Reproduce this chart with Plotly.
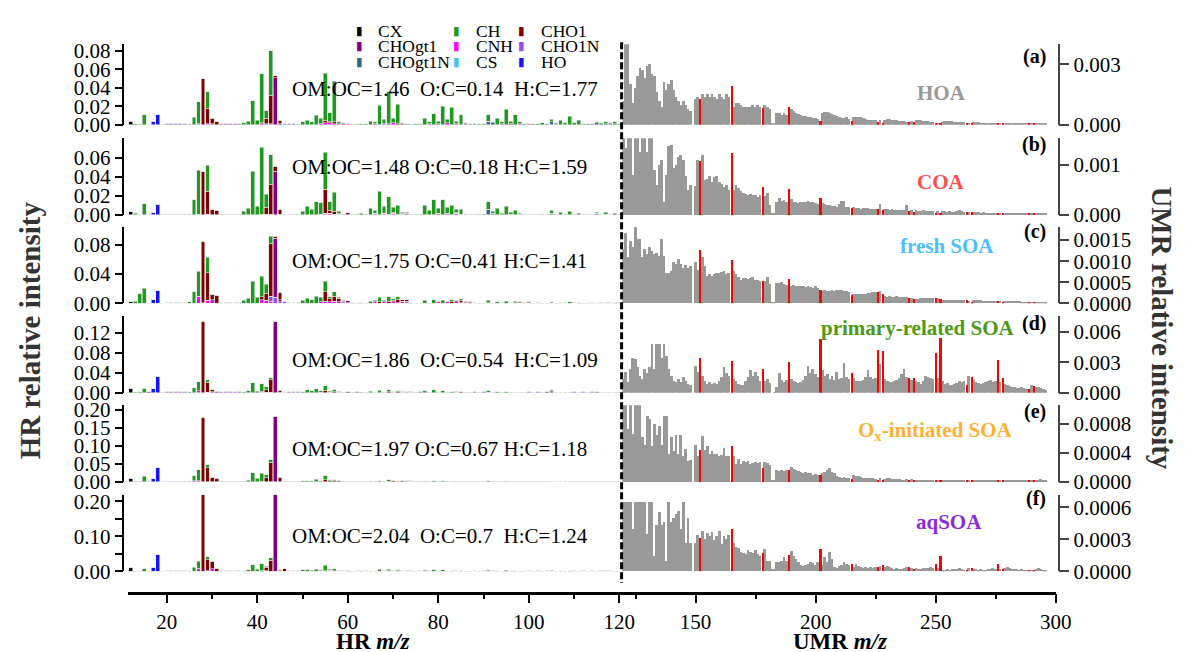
import plotly.graph_objects as go

W, H = 1186, 652
def fx(p): return p / W
def fy(p): return 1 - p / H

# ---------------- data ----------------
HR_MZ = list(range(12, 121))
UMR_MZ = list(range(120, 297))
RED_MZ = [152, 165, 178, 189, 202, 215, 226, 228, 239, 241, 250, 252, 263, 265, 276, 278, 289, 291]

FAMILIES = ["CX", "CH", "CHO1", "CHOgt1", "CNH", "CHO1N", "CHOgt1N", "CS", "HO"]
STACK_ORDER = ["CNH", "CHO1N", "CHOgt1N", "CS", "HO", "CX", "CHOgt1", "CHO1", "CH"]
COLORS = {"CX": "#000000", "CH": "#1e9a1e", "CHO1": "#800000", "CHOgt1": "#800080",
          "CNH": "#ff00ff", "CHO1N": "#9b4dea", "CHOgt1N": "#2a6a8c", "CS": "#45c2f5", "HO": "#1414ff"}

FACTORS = ["HOA", "COA", "fresh SOA", "primary-related SOA", "O<sub>x</sub>-initiated SOA", "aqSOA"]
FACTOR_COLORS = ["#999999", "#ff4d4d", "#4dbfff", "#4a9a14", "#ffb030", "#8a2be2"]
PANEL_TAGS = ["(a)", "(b)", "(c)", "(d)", "(e)", "(f)"]
ELEMENTAL = ["OM:OC=1.46\u00a0\u00a0O:C=0.14\u00a0\u00a0H:C=1.77",
             "OM:OC=1.48 O:C=0.18 H:C=1.59",
             "OM:OC=1.75 O:C=0.41 H:C=1.41",
             "OM:OC=1.86\u00a0\u00a0O:C=0.54\u00a0\u00a0H:C=1.09",
             "OM:OC=1.97 O:C=0.67 H:C=1.18",
             "OM:OC=2.04\u00a0\u00a0O:C=0.7\u00a0\u00a0H:C=1.24"]

# HR family spectra (m/z : relative intensity)
HR_HOA = {
    "CX": {12: 0.003},
    "CH": {13: 0.001, 14: 0.0005, 15: 0.011, 25: 0.0005, 26: 0.008, 27: 0.024, 29: 0.018, 37: 0.002, 38: 0.004,
           39: 0.026, 40: 0.005, 41: 0.053, 42: 0.008, 43: 0.048, 49: 0.0005, 50: 0.003, 51: 0.005, 52: 0.003,
           53: 0.010, 54: 0.006, 55: 0.051, 56: 0.010, 57: 0.044, 58: 0.002, 59: 0.001, 62: 0.0005, 63: 0.001,
           64: 0.001, 65: 0.004, 66: 0.002, 67: 0.021, 68: 0.005, 69: 0.035, 70: 0.005, 71: 0.021, 72: 0.001,
           73: 0.001, 74: 0.0005, 75: 0.001, 76: 0.001, 77: 0.007, 78: 0.002, 79: 0.012, 80: 0.003, 81: 0.020,
           82: 0.004, 83: 0.019, 84: 0.003, 85: 0.011, 86: 0.001, 87: 0.001, 89: 0.001, 90: 0.001, 91: 0.007,
           92: 0.001, 93: 0.007, 94: 0.002, 95: 0.017, 96: 0.003, 97: 0.011, 98: 0.002, 99: 0.001, 101: 0.001,
           102: 0.001, 103: 0.002, 104: 0.001, 105: 0.003, 106: 0.001, 107: 0.005, 108: 0.002, 109: 0.009,
           110: 0.002, 111: 0.005, 112: 0.001, 113: 0.001, 115: 0.001, 116: 0.001, 117: 0.002, 118: 0.001,
           119: 0.002, 120: 0.001},
    "CHO1": {28: 0.050, 29: 0.017, 30: 0.006, 31: 0.004, 41: 0.001, 42: 0.006, 43: 0.031, 44: 0.002, 45: 0.004,
             55: 0.003, 56: 0.001, 57: 0.002, 69: 0.001, 71: 0.001},
    "CHOgt1": {44: 0.051, 45: 0.001, 60: 0.0005},
    "CNH": {27: 0.001, 29: 0.001, 30: 0.001, 41: 0.001, 42: 0.001, 43: 0.001, 54: 0.001, 55: 0.002, 56: 0.002,
            57: 0.001, 58: 0.001, 59: 0.001, 60: 0.001, 66: 0.001, 68: 0.001, 70: 0.002, 72: 0.001, 78: 0.001,
            80: 0.001, 82: 0.002, 84: 0.001, 86: 0.001, 94: 0.001, 96: 0.001, 98: 0.001, 100: 0.001},
    "CHO1N": {20: 0.0008, 21: 0.0008, 22: 0.0008, 23: 0.0008, 24: 0.0008, 32: 0.0008, 33: 0.0008, 34: 0.0008,
              35: 0.0008, 36: 0.0008, 46: 0.0008, 47: 0.0008, 48: 0.0008, 61: 0.0005, 74: 0.0005, 88: 0.0008,
              100: 0.0005, 114: 0.0008},
    "CHOgt1N": {91: 0.004, 92: 0.002, 105: 0.003, 106: 0.001, 115: 0.002, 116: 0.001, 117: 0.001, 118: 0.001,
                119: 0.001},
    "CS": {},
    "HO": {16: 0.0005, 17: 0.003, 18: 0.011},
}
HR_COA = {
    "CX": {12: 0.004},
    "CH": {13: 0.002, 15: 0.012, 25: 0.001, 26: 0.016, 27: 0.046, 29: 0.027, 37: 0.004, 38: 0.007, 39: 0.046,
           40: 0.009, 41: 0.070, 42: 0.014, 43: 0.031, 50: 0.004, 51: 0.009, 52: 0.006, 53: 0.014, 54: 0.012,
           55: 0.039, 56: 0.009, 57: 0.020, 58: 0.002, 59: 0.001, 62: 0.001, 63: 0.002, 64: 0.001, 65: 0.007,
           66: 0.003, 67: 0.025, 68: 0.007, 69: 0.018, 70: 0.005, 71: 0.009, 72: 0.001, 73: 0.001, 75: 0.001,
           76: 0.001, 77: 0.010, 78: 0.005, 79: 0.016, 80: 0.005, 81: 0.016, 82: 0.006, 83: 0.010, 84: 0.003,
           85: 0.005, 86: 0.001, 89: 0.001, 90: 0.001, 91: 0.008, 92: 0.002, 93: 0.007, 94: 0.002, 95: 0.009,
           96: 0.002, 97: 0.005, 98: 0.001, 103: 0.001, 105: 0.003, 106: 0.001, 107: 0.003, 108: 0.001,
           109: 0.004, 110: 0.001, 111: 0.002, 115: 0.001, 117: 0.002, 119: 0.002},
    "CHO1": {28: 0.046, 29: 0.024, 30: 0.006, 31: 0.005, 42: 0.007, 43: 0.031, 44: 0.005, 45: 0.005, 55: 0.025,
             56: 0.003, 57: 0.003, 58: 0.001, 69: 0.001, 70: 0.001, 71: 0.001, 72: 0.001, 84: 0.001, 85: 0.001},
    "CHOgt1": {44: 0.046, 45: 0.001, 60: 0.003, 73: 0.002},
    "CNH": {27: 0.001, 29: 0.001, 41: 0.001, 42: 0.001, 43: 0.001, 54: 0.001, 55: 0.002, 56: 0.002, 57: 0.001,
            58: 0.001, 66: 0.002, 68: 0.002, 70: 0.002, 72: 0.001, 80: 0.002, 82: 0.002, 84: 0.002, 96: 0.001,
            98: 0.001},
    "CHO1N": {20: 0.0008, 21: 0.0008, 22: 0.0008, 23: 0.0008, 24: 0.0008, 32: 0.0008, 33: 0.0008, 34: 0.0008,
              35: 0.0008, 36: 0.0008, 46: 0.0008, 47: 0.0008, 48: 0.0008, 49: 0.0008, 61: 0.0005, 74: 0.0005,
              88: 0.0008, 100: 0.0008, 114: 0.0008},
    "CHOgt1N": {91: 0.006, 92: 0.002, 105: 0.002, 115: 0.002, 116: 0.001, 117: 0.001},
    "CS": {},
    "HO": {17: 0.003, 18: 0.011},
}
HR_FRESH = {
    "CX": {12: 0.003},
    "CH": {13: 0.003, 14: 0.013, 15: 0.021, 25: 0.002, 26: 0.016, 27: 0.034, 29: 0.021, 37: 0.004, 38: 0.007,
           39: 0.030, 40: 0.008, 41: 0.028, 42: 0.012, 43: 0.010, 50: 0.004, 51: 0.007, 52: 0.005, 53: 0.010,
           54: 0.006, 55: 0.014, 56: 0.003, 57: 0.006, 58: 0.001, 59: 0.001, 63: 0.001, 65: 0.003, 66: 0.002,
           67: 0.006, 68: 0.002, 69: 0.006, 70: 0.002, 71: 0.004, 77: 0.004, 79: 0.005, 81: 0.004, 83: 0.003,
           85: 0.002, 91: 0.003, 93: 0.002, 95: 0.003, 97: 0.002, 105: 0.001, 107: 0.001, 109: 0.002, 119: 0.001},
    "CHO1": {28: 0.083, 29: 0.038, 30: 0.007, 31: 0.011, 41: 0.004, 42: 0.010, 43: 0.072, 44: 0.003, 45: 0.010,
             55: 0.013, 56: 0.004, 57: 0.007, 58: 0.005, 59: 0.001, 67: 0.002, 69: 0.003, 70: 0.002, 71: 0.004,
             72: 0.002, 73: 0.002, 83: 0.002, 84: 0.002, 85: 0.003, 86: 0.001, 87: 0.001, 97: 0.001, 98: 0.001,
             99: 0.001, 111: 0.001},
    "CHOgt1": {44: 0.081, 45: 0.003, 46: 0.001, 59: 0.002, 60: 0.003, 61: 0.001, 72: 0.001, 73: 0.002, 74: 0.001,
               86: 0.001, 87: 0.001, 100: 0.001},
    "CNH": {27: 0.010, 28: 0.001, 29: 0.004, 30: 0.005, 41: 0.005, 42: 0.004, 43: 0.003, 54: 0.002, 55: 0.003,
            56: 0.002, 57: 0.002, 58: 0.002, 66: 0.002, 68: 0.002, 70: 0.002, 72: 0.002, 80: 0.002, 82: 0.002,
            84: 0.002, 86: 0.001, 94: 0.001, 96: 0.001, 98: 0.001, 100: 0.001, 108: 0.001, 110: 0.001},
    "CHO1N": {20: 0.001, 21: 0.001, 22: 0.001, 23: 0.001, 24: 0.001, 32: 0.001, 33: 0.001, 34: 0.001, 35: 0.001,
              36: 0.001, 43: 0.007, 44: 0.008, 45: 0.002, 46: 0.002, 47: 0.001, 48: 0.001, 49: 0.001, 57: 0.001,
              59: 0.001, 60: 0.001, 71: 0.001, 73: 0.001, 85: 0.001, 88: 0.001, 102: 0.001, 114: 0.001,
              116: 0.001, 118: 0.001, 120: 0.001},
    "CHOgt1N": {91: 0.001, 105: 0.001, 117: 0.001},
    "CS": {},
    "HO": {17: 0.005, 18: 0.018},
}
HR_PRIM = {
    "CX": {12: 0.008},
    "CH": {13: 0.001, 14: 0.002, 15: 0.008, 25: 0.002, 26: 0.010, 27: 0.018, 29: 0.005, 37: 0.002, 38: 0.004,
           39: 0.020, 40: 0.003, 41: 0.015, 42: 0.006, 43: 0.004, 50: 0.002, 51: 0.006, 52: 0.004, 53: 0.008,
           54: 0.003, 55: 0.010, 56: 0.002, 57: 0.004, 63: 0.001, 65: 0.003, 67: 0.005, 69: 0.004, 71: 0.002,
           77: 0.004, 79: 0.006, 81: 0.004, 83: 0.002, 91: 0.003, 93: 0.002, 95: 0.002, 105: 0.002, 115: 0.002},
    "CHO1": {16: 0.002, 28: 0.142, 29: 0.020, 30: 0.004, 31: 0.003, 41: 0.002, 42: 0.005, 43: 0.025, 45: 0.004,
             55: 0.004, 56: 0.001, 57: 0.002, 58: 0.002, 69: 0.002, 70: 0.001, 71: 0.002, 72: 0.002, 73: 0.001,
             84: 0.002, 85: 0.002, 104: 0.002, 105: 0.002},
    "CHOgt1": {44: 0.142, 45: 0.001, 46: 0.001, 60: 0.002, 61: 0.001, 73: 0.001, 74: 0.001, 87: 0.001},
    "CNH": {27: 0.004, 29: 0.001, 30: 0.002, 41: 0.001, 42: 0.001, 43: 0.001, 54: 0.001, 56: 0.001, 58: 0.001,
            68: 0.001, 70: 0.001, 72: 0.001, 82: 0.001, 84: 0.001, 86: 0.001, 96: 0.001, 98: 0.001},
    "CHO1N": {20: 0.0015, 21: 0.0015, 22: 0.0015, 23: 0.0015, 24: 0.0015, 32: 0.0015, 33: 0.0015, 34: 0.0015,
              35: 0.0015, 36: 0.0015, 46: 0.001, 47: 0.0015, 48: 0.0015, 49: 0.0015, 59: 0.001, 62: 0.0015,
              74: 0.001, 76: 0.0015, 88: 0.0015, 90: 0.0015, 100: 0.0015, 102: 0.0015, 110: 0.0015,
              112: 0.0015, 114: 0.0015},
    "CHOgt1N": {91: 0.001, 105: 0.002, 106: 0.001, 117: 0.001},
    "CS": {},
    "HO": {17: 0.008, 18: 0.032},
}
HR_OX = {
    "CX": {12: 0.010},
    "CH": {13: 0.002, 15: 0.016, 25: 0.002, 26: 0.014, 27: 0.031, 29: 0.009, 37: 0.002, 38: 0.005, 39: 0.026,
           40: 0.010, 41: 0.022, 42: 0.007, 43: 0.007, 50: 0.003, 51: 0.004, 52: 0.003, 53: 0.007, 54: 0.003,
           55: 0.011, 56: 0.003, 57: 0.003, 65: 0.002, 67: 0.003, 69: 0.004, 71: 0.002, 77: 0.002, 79: 0.003,
           81: 0.003, 91: 0.002, 93: 0.001, 95: 0.002},
    "CHO1": {28: 0.180, 29: 0.038, 30: 0.012, 31: 0.010, 41: 0.002, 42: 0.012, 43: 0.055, 45: 0.012, 55: 0.006,
             56: 0.002, 57: 0.003, 58: 0.003, 69: 0.002, 70: 0.002, 71: 0.002, 72: 0.002, 73: 0.002, 84: 0.001,
             85: 0.002, 86: 0.001, 99: 0.001},
    "CHOgt1": {44: 0.182, 45: 0.001, 60: 0.002, 61: 0.001, 73: 0.002, 74: 0.001, 87: 0.001},
    "CNH": {26: 0.004, 27: 0.003, 29: 0.001, 30: 0.001, 42: 0.001, 54: 0.001, 56: 0.001, 58: 0.001, 68: 0.001,
            70: 0.001, 72: 0.001, 84: 0.001, 86: 0.001},
    "CHO1N": {20: 0.002, 21: 0.002, 22: 0.002, 23: 0.002, 24: 0.002, 32: 0.002, 33: 0.002, 34: 0.002, 35: 0.002,
              36: 0.002, 46: 0.002, 47: 0.002, 48: 0.002, 49: 0.002, 59: 0.002, 62: 0.002, 64: 0.002, 74: 0.002,
              76: 0.002, 78: 0.002, 88: 0.002, 90: 0.002, 92: 0.002, 100: 0.002, 102: 0.002, 104: 0.002,
              110: 0.002, 112: 0.002, 114: 0.002, 116: 0.002, 118: 0.002},
    "CHOgt1N": {91: 0.001, 105: 0.001},
    "CS": {},
    "HO": {17: 0.010, 18: 0.040},
}
HR_AQ = {
    "CX": {12: 0.010},
    "CH": {13: 0.002, 15: 0.008, 25: 0.002, 26: 0.012, 27: 0.020, 29: 0.009, 37: 0.002, 38: 0.004, 39: 0.018,
           40: 0.006, 41: 0.019, 42: 0.004, 43: 0.006, 50: 0.004, 51: 0.004, 52: 0.003, 53: 0.006, 54: 0.004,
           55: 0.015, 56: 0.003, 57: 0.006, 63: 0.001, 65: 0.002, 67: 0.006, 69: 0.005, 71: 0.002, 77: 0.003,
           79: 0.005, 81: 0.004, 83: 0.002, 91: 0.003, 93: 0.002, 95: 0.003, 97: 0.001, 105: 0.002, 107: 0.001,
           109: 0.002},
    "CHO1": {16: 0.0005, 28: 0.218, 29: 0.032, 30: 0.021, 31: 0.009, 41: 0.002, 42: 0.010, 43: 0.032, 45: 0.004,
             46: 0.008, 55: 0.002, 56: 0.002, 57: 0.002, 58: 0.001, 69: 0.001, 70: 0.001, 71: 0.002, 72: 0.001,
             73: 0.001, 84: 0.001, 85: 0.001},
    "CHOgt1": {44: 0.218, 45: 0.001, 60: 0.001, 73: 0.001, 74: 0.001},
    "CNH": {27: 0.009, 29: 0.001, 30: 0.008, 42: 0.001, 54: 0.001, 56: 0.001, 58: 0.001, 68: 0.001, 70: 0.001,
            72: 0.001, 84: 0.001},
    "CHO1N": {20: 0.002, 21: 0.002, 22: 0.002, 23: 0.002, 24: 0.002, 32: 0.002, 33: 0.002, 34: 0.002, 35: 0.002,
              36: 0.002, 47: 0.002, 48: 0.002, 49: 0.002, 59: 0.002, 62: 0.002, 64: 0.002, 74: 0.002,
              76: 0.002, 78: 0.002, 88: 0.002, 90: 0.002, 92: 0.002, 100: 0.002, 102: 0.002, 104: 0.002,
              110: 0.002, 112: 0.002, 114: 0.002, 116: 0.002, 118: 0.002},
    "CHOgt1N": {91: 0.001, 105: 0.001, 117: 0.001},
    "CS": {},
    "HO": {17: 0.012, 18: 0.048},
}
HR_ROWS = [HR_HOA, HR_COA, HR_FRESH, HR_PRIM, HR_OX, HR_AQ]

# UMR spectra m/z 120..296, in units of 1e-4
UMR_HOA = [12, 40, 40, 20, 11, 18, 24, 28, 27, 23,
           29, 30, 25, 24, 16, 12, 9, 21, 17, 20,
           22, 17, 14, 12, 10, 12, 10, 8, 7, 0,
           13, 14, 13, 15, 14, 15, 14, 15, 14, 13,
           15, 14, 13, 15, 14, 19, 9, 11, 11, 10,
           9, 9, 9, 9, 10, 9, 10, 9, 8.5, 10,
           9, 8, 0.5, 0.5, 6, 6, 5, 6, 5, 9,
           8, 7, 6, 5.5, 5, 4.5, 4.5, 4, 4, 3.5,
           3.5, 3, 2, 6, 6.5, 6.5, 6, 5.5, 5, 4.5,
           4, 3.5, 3.5, 4, 3, 1.7, 4, 4, 4, 4,
           3.5, 3, 2.5, 2.5, 2.5, 2.5, 1.2, 2.5, 0.5, 2.5,
           3, 3, 2.5, 2.5, 2.5, 2, 2, 2, 1.5, 1.2,
           2, 1.2, 2.5, 2.5, 2.5, 2, 2, 2, 1.5, 1.5,
           0.3, 0.5, 0.3, 1.5, 2, 2, 2, 2, 1.5, 1.5,
           1.2, 1.5, 1.2, 0.5, 1, 0.5, 1.2, 1.2, 1.2, 1,
           1, 1, 0.8, 0.7, 0.8, 0.8, 0.3, 0.5, 0.3, 0.8,
           0.8, 1, 1, 1, 0.8, 0.8, 0.8, 0.7, 0.6, 0.4,
           0.5, 0.4, 0.8, 0.8, 0.7, 0.8, 0.8]
UMR_COA = [15.5, 13.4, 15.5, 15.5, 8, 15.5, 15.5, 12.5, 15.5, 15.5,
           12.5, 15.5, 15.5, 9, 6, 10, 11, 2.5, 8, 13.7,
           14, 9.4, 10, 11.6, 12, 11, 7.8, 5, 6, 0,
           5.7, 11, 10.7, 12, 7, 7.2, 7.8, 6.5, 7.5, 7.8,
           6.5, 6.2, 5.5, 6, 5, 12.3, 5, 6, 5.3, 4.7,
           4.4, 4.2, 4, 4.2, 3.9, 4, 3.6, 4, 5.6, 3.75,
           4.4, 1.9, 0.3, 0.3, 2.5, 3.4, 2.8, 3, 2.5, 5.1,
           3.1, 2.5, 2.6, 2.4, 2.5, 2.6, 2.6, 2.8, 2.5, 2.5,
           2.3, 2.2, 3.4, 2.3, 2.2, 2, 1.9, 1.8, 1.7, 1.6,
           2.2, 2.8, 2.8, 1.6, 1.5, 1.4, 1.6, 1.4, 1.3, 1.2,
           1.3, 1.4, 1.3, 1.2, 1.1, 1.2, 1.1, 2.2, 0.9, 1.2,
           1.1, 1, 1.1, 1, 1, 0.9, 1, 1, 2, 0.7,
           1, 0.6, 0.9, 0.8, 0.8, 0.9, 0.8, 0.7, 0.8, 0.7,
           0.3, 0.7, 0.3, 0.8, 0.7, 0.6, 0.7, 0.6, 0.6, 0.8,
           0.9, 0.7, 0.6, 0.5, 0.6, 0.5, 0.5, 0.5, 0.5, 0.4,
           0.5, 0.4, 0.4, 0.4, 0.4, 0.4, 0.2, 0.4, 0.2, 0.4,
           0.3, 0.4, 0.3, 0.3, 0.3, 0.4, 0.3, 0.3, 0.3, 0.2,
           0.3, 0.2, 0.3, 0.3, 0.4, 0.3, 0.3]
UMR_FRESH = [13, 16.8, 10.9, 14.8, 13.3, 18, 15.2, 15.2, 10.9, 12.9,
             11.7, 13.3, 12.5, 11.7, 12, 11.3, 15.2, 11.3, 7.3, 7.3,
             7.6, 9.7, 9.3, 10.5, 9.3, 8.5, 9, 8.5, 8.8, 0,
             9.7, 8, 12.7, 10.9, 8.9, 6.5, 6.9, 6.5, 6.9, 7.1,
             7.3, 7.5, 7.7, 6.9, 7.2, 10.3, 7.7, 6.9, 6.3, 5.6,
             5.9, 6.1, 5.7, 5.9, 6.3, 5.5, 5.6, 5.4, 5.3, 5.3,
             6.3, 4.5, 0.3, 0.3, 4.9, 4.9, 5, 4.6, 4.3, 5.7,
             4.1, 4.3, 4.1, 4.1, 4, 4, 3.9, 4.1, 3.8, 3.7,
             4, 3.7, 3.2, 2.9, 3.2, 2.9, 3, 3.2, 2.9, 3.2,
             3.1, 3.2, 2.9, 3, 2.8, 1.9, 2.1, 2.1, 2.1, 2.2,
             2.3, 2.3, 2.5, 2.4, 2.6, 2.6, 2.7, 2.9, 2.1, 1.7,
             1.6, 1.7, 1.6, 1.6, 1.7, 1.6, 1.6, 1.5, 1.5, 1.2,
             1.3, 1.1, 1.1, 1.1, 1.2, 1.2, 1.3, 1.3, 1.2, 1.3,
             1.35, 1.2, 1, 0.9, 0.9, 0.9, 0.8, 0.8, 0.8, 0.8,
             0.8, 0.8, 0.8, 0.8, 0.6, 0.2, 0.7, 0.7, 0.7, 0.7,
             0.6, 0.6, 0.6, 0.6, 0.6, 0.6, 0.5, 0.5, 0.4, 0.5,
             0.5, 0.6, 0.5, 0.5, 0.5, 0.5, 0.4, 0.4, 0.4, 0.4,
             0.3, 0.2, 0.3, 0.3, 0.3, 0.4, 0.3]
UMR_PRIM = [14, 20, 11, 23, 34, 33, 25, 17, 14, 23,
            19, 25, 48, 23, 48, 48, 34, 48, 36, 23,
            17, 12, 11, 14, 11, 15.5, 12, 9, 8, 0,
            26, 20, 34, 17, 12, 9, 11, 9, 10, 9,
            12, 15.5, 25, 19, 17, 31, 14, 12, 9, 8,
            8, 12, 15.5, 22, 17, 20, 17, 12, 23, 12,
            14, 10, 0, 0.5, 6, 19, 13, 11, 13, 30,
            14, 12, 11, 10, 11, 13, 17, 26, 19, 23,
            18, 16, 53, 22, 17, 18, 14, 17, 13, 20,
            14, 15, 29.5, 16, 14, 19, 15, 12, 12, 12,
            13, 16, 22, 16, 14, 15, 42.5, 28, 41, 14,
            12, 11, 11, 12, 13, 15, 18, 23, 16, 14.6,
            13, 14.6, 12, 11, 9, 12, 17, 16, 15, 14,
            39, 15, 54, 12, 9, 10, 8, 8, 9, 10,
            12, 11, 12, 7.8, 17, 15.5, 13, 11, 10, 9,
            10, 11, 12, 13, 11, 12, 32.6, 11, 14.6, 9,
            8, 7, 6, 6, 5, 5, 6, 5, 4, 4,
            8, 7, 6, 6, 5, 4, 3]
UMR_OX = [10.5, 10.5, 7.3, 10.5, 6.6, 10.5, 10.5, 10.5, 6.2, 5.1,
          9, 8.6, 4.9, 7.9, 6.4, 7.7, 5.1, 9.1, 9.1, 3.8,
          6.2, 4.2, 6.4, 3.8, 6.4, 3.6, 4.5, 2.9, 3, 0,
          5.1, 3.5, 4.4, 6.3, 4.4, 4.9, 3.8, 4.2, 3.8, 3.8,
          3.6, 3.7, 4.7, 3.6, 3.5, 4.9, 3.6, 2.5, 3.1, 2.5,
          2.9, 2.7, 2.9, 2.4, 2.6, 2.7, 2.6, 2.7, 1.9, 2.7,
          2.6, 2.3, 0.2, 0.2, 1.6, 1.5, 1.6, 1.5, 1.6, 1.6,
          2, 1.8, 1.7, 1.5, 1.4, 1.2, 1.3, 1.2, 1.2, 1,
          1.1, 1, 1, 1.2, 1.4, 1.7, 1.9, 1.4, 1.2, 0.8,
          0.7, 0.6, 0.7, 0.6, 0.6, 0.4, 0.9, 0.8, 0.8, 0.7,
          0.6, 0.6, 0.5, 0.5, 0.5, 0.4, 0.2, 0.5, 0.2, 0.4,
          0.5, 0.5, 0.4, 0.4, 0.4, 0.4, 0.3, 0.3, 0.4, 0.2,
          0.4, 0.2, 0.3, 0.3, 0.3, 0.3, 0.3, 0.3, 0.3, 0.3,
          0.1, 0.3, 0.1, 0.3, 0.2, 0.2, 0.3, 0.2, 0.2, 0.2,
          0.2, 0.2, 0.2, 0.1, 0.2, 0.1, 0.2, 0.2, 0.2, 0.2,
          0.2, 0.2, 0.2, 0.2, 0.2, 0.2, 0.1, 0.2, 0.1, 0.2,
          0.2, 0.2, 0.2, 0.2, 0.2, 0.2, 0.2, 0.3, 0.2, 0.1,
          0.2, 0.1, 0.2, 0.2, 0.4, 0.2, 0.2]
UMR_AQ = [6.5, 6.5, 6.5, 6.5, 4, 6.5, 6.5, 6.5, 6.5, 6.5,
          3.5, 6.5, 6.5, 1.4, 4.3, 5.6, 4.3, 4.6, 1, 6.5,
          4.6, 5, 5.4, 5.7, 4, 6.5, 2.7, 5, 2.7, 0,
          2.7, 3.4, 3.1, 3.8, 3, 3.6, 3.3, 3.7, 2.9, 3.3,
          3.8, 2.6, 3.3, 3, 3.4, 4, 2.7, 2.3, 2.2, 1.8,
          1.7, 1.6, 2, 1.8, 1.7, 2, 1.6, 1.4, 1.75, 2.1,
          1, 1, 0.2, 0.2, 0.9, 0.9, 1, 1.3, 1, 1.5,
          1.9, 1.4, 1.2, 0.9, 0.6, 0.5, 0.6, 0.7, 0.9, 0.8,
          0.6, 0.9, 2.1, 0.6, 1.3, 0.9, 1.8, 1.2, 0.4, 0.3,
          0.5, 0.6, 0.9, 0.7, 0.6, 0.65, 0.4, 0.7, 0.5, 0.4,
          0.3, 0.4, 0.3, 0.4, 0.3, 0.4, 0.45, 0.5, 0.6, 0.4,
          0.5, 0.4, 0.3, 0.2, 0.3, 0.2, 0.2, 0.3, 0.45, 0.45,
          0.3, 0.2, 0.3, 0.2, 0.2, 0.3, 0.3, 0.3, 0.4, 0.3,
          0.7, 0.3, 1.4, 0.1, 0.1, 0.2, 0.1, 0.2, 0.2, 0.2,
          0.3, 0.2, 0.1, 0.1, 0.3, 0.35, 0.2, 0.2, 0.1, 0.2,
          0.1, 0.1, 0.2, 0.2, 0.3, 0.2, 0.7, 0.2, 0.2, 0.3,
          0.4, 0.3, 0.2, 0.2, 0.2, 0.1, 0.2, 0.1, 0.1, 0.1,
          0.1, 0.1, 0.2, 0.3, 0.2, 0.1, 0.1]
UMR_ROWS = [UMR_HOA, UMR_COA, UMR_FRESH, UMR_PRIM, UMR_OX, UMR_AQ]

# axis ranges / ticks
HR_YRANGE = [0.0874, 0.0804, 0.105, 0.153, 0.2135, 0.219]
HR_YTICKS = [[0, 0.02, 0.04, 0.06, 0.08], [0, 0.02, 0.04, 0.06], [0, 0.04, 0.08],
             [0, 0.04, 0.08, 0.12], [0, 0.05, 0.10, 0.15, 0.20], [0, 0.10, 0.20]]
HR_YTEXT = [["0.00", "0.02", "0.04", "0.06", "0.08"], ["0.00", "0.02", "0.04", "0.06"], ["0.00", "0.04", "0.08"],
            ["0.00", "0.04", "0.08", "0.12"], ["0.00", "0.05", "0.10", "0.15", "0.20"],
            ["0.00", "0.10", "0.20"]]
HR_YMINOR = [[], [], [], [], [], [0.05, 0.15]]
UMR_YRANGE = [0.0040, 0.00153, 0.00182, 0.0076, 0.00105, 0.00072]
UMR_YTICKS = [[0, 0.003], [0, 0.001], [0, 0.0005, 0.0010, 0.0015], [0, 0.003, 0.006],
              [0, 0.0004, 0.0008], [0, 0.0003, 0.0006]]
UMR_YTEXT = [["0.000", "0.003"], ["0.000", "0.001"], ["0.0000", "0.0005", "0.0010", "0.0015"],
             ["0.000", "0.003", "0.006"], ["0.0000", "0.0004", "0.0008"], ["0.0000", "0.0003", "0.0006"]]

# ---------------- layout geometry (pixels) ----------------
ROW_PX = [(30, 113), (127, 206), (218, 297), (310, 389), (402, 481), (494, 573)]
TEXT_Y = [76, 157, 253, 355, 447, 537]
FACTOR_POS = [(946, 80), (946, 172), (952, 238), (922, 322), (940, 428), (954, 522)]
TAG_Y = [43, 133, 223, 318, 408, 498]
SERIF = "Liberation Serif"

fig = go.Figure()

for r in range(6):
    ya = "y" if r == 0 else f"y{r + 1}"
    for fam in STACK_ORDER:
        d = HR_ROWS[r][fam]
        vals = [d.get(m, 0.0) for m in HR_MZ]
        fig.add_trace(go.Bar(x=HR_MZ, y=vals, xaxis="x", yaxis=ya, marker_color=COLORS[fam], width=0.86,
                             marker_line=dict(color="rgba(225,225,225,1)", width=0.6),
                             showlegend=False, name=fam))
    yr = f"y{r + 7}"
    vals = UMR_ROWS[r]
    gx = [m for m, v in zip(UMR_MZ, vals) if m not in RED_MZ]
    gy = [v * 1e-4 for m, v in zip(UMR_MZ, vals) if m not in RED_MZ]
    rx = [m for m, v in zip(UMR_MZ, vals) if m in RED_MZ]
    ry = [v * 1e-4 for m, v in zip(UMR_MZ, vals) if m in RED_MZ]
    fig.add_trace(go.Bar(x=gx, y=gy, xaxis="x2", yaxis=yr, marker_color="#999999", width=0.8,
                         marker_line=dict(width=0), showlegend=False))
    fig.add_trace(go.Bar(x=rx, y=ry, xaxis="x2", yaxis=yr, marker_color="#ff0000", width=0.9,
                         marker_line=dict(width=0), showlegend=False))

ytickfont = dict(family=SERIF, size=21, color="black")
xtickfont = dict(family=SERIF, size=21, color="black")
layout = dict(
    width=W, height=H, autosize=False, margin=dict(l=0, r=0, t=0, b=0),
    paper_bgcolor="white", plot_bgcolor="rgba(0,0,0,0)", barmode="stack",
    font=dict(family=SERIF, color="black"), showlegend=False,
    xaxis=dict(domain=[fx(122), fx(622)], range=[11.5, 120.5], anchor="free", position=fy(595),
               tickvals=[20, 40, 60, 80, 100, 120], ticks="outside", ticklen=9, tickwidth=2,
               tickcolor="black", showline=True, linewidth=2.5, linecolor="black",
               minor=dict(tickvals=[30, 50, 70, 90, 110], ticks="outside", ticklen=5, tickwidth=2,
                          tickcolor="black"),
               showgrid=False, zeroline=False, tickfont=xtickfont),
    xaxis2=dict(domain=[fx(622.8), fx(1062)], range=[119.5, 300], anchor="free", position=fy(595),
                tickvals=[150, 200, 250, 300], ticks="outside", ticklen=9, tickwidth=2,
                tickcolor="black", showline=True, linewidth=2.5, linecolor="black",
                minor=dict(tickvals=[125, 175, 225, 275], ticks="outside", ticklen=5, tickwidth=2,
                           tickcolor="black"),
                showgrid=False, zeroline=False, tickfont=xtickfont),
)
for r in range(6):
    top, zero = ROW_PX[r]
    dom = [fy(zero), fy(top)]
    key = "yaxis" if r == 0 else f"yaxis{r + 1}"
    layout[key] = dict(domain=dom, range=[0, HR_YRANGE[r]], anchor="free", position=fx(117),
                       tickvals=HR_YTICKS[r], ticktext=HR_YTEXT[r], ticks="outside", ticklen=8,
                       tickwidth=1.5, tickcolor="black", showline=True, linewidth=1.5, linecolor="black",
                       minor=dict(tickvals=HR_YMINOR[r], ticks="outside", ticklen=8, tickwidth=1.5,
                                  tickcolor="black"),
                       showgrid=False, zeroline=False, tickfont=ytickfont)
    layout[f"yaxis{r + 7}"] = dict(domain=dom, range=[0, UMR_YRANGE[r]], anchor="free", position=fx(1065),
                                   side="right", tickvals=UMR_YTICKS[r], ticktext=UMR_YTEXT[r],
                                   ticks="outside", ticklen=10, tickwidth=1.5, tickcolor="#444",
                                   showline=True, linewidth=1.5, linecolor="#444",
                                   showgrid=False, zeroline=False, tickfont=ytickfont)
fig.update_layout(**layout)

ann = []
for r in range(6):
    ann.append(dict(x=fx(286), y=fy(TEXT_Y[r]), xref="paper", yref="paper", text=ELEMENTAL[r],
                    showarrow=False, xanchor="left", yanchor="middle",
                    font=dict(family=SERIF, size=21, color="black")))
    fxp, fyp = FACTOR_POS[r]
    ann.append(dict(x=fx(fxp), y=fy(fyp), xref="paper", yref="paper", text=f"<b>{FACTORS[r]}</b>",
                    showarrow=False, xanchor="center", yanchor="middle",
                    font=dict(family=SERIF, size=21, color=FACTOR_COLORS[r])))
    ann.append(dict(x=fx(1054), y=fy(TAG_Y[r]), xref="paper", yref="paper", text=f"<b>{PANEL_TAGS[r]}</b>",
                    showarrow=False, xanchor="right", yanchor="middle",
                    font=dict(family=SERIF, size=20, color="black")))

# legend (3 x 3)
LEG_LAYOUT = [["CX", "CH", "CHO1"], ["CHOgt1", "CNH", "CHO1N"], ["CHOgt1N", "CS", "HO"]]
LEG_COL_X = [356, 455, 521]
LEG_ROW_Y = [16, 32, 48]
for i, row in enumerate(LEG_LAYOUT):
    for j, fam in enumerate(row):
        ann.append(dict(x=fx(LEG_COL_X[j]), y=fy(LEG_ROW_Y[i]), xref="paper", yref="paper", text="\u25ae",
                        showarrow=False, xanchor="center", yanchor="middle",
                        font=dict(family="DejaVu Sans", size=12, color=COLORS[fam])))
        ann.append(dict(x=fx(LEG_COL_X[j] + 17), y=fy(LEG_ROW_Y[i]), xref="paper", yref="paper", text=fam,
                        showarrow=False, xanchor="left", yanchor="middle",
                        font=dict(family=SERIF, size=17.5, color="black")))

ann.append(dict(x=fx(370), y=fy(645), xref="paper", yref="paper", text="<b>HR <i>m/z</i></b>",
                showarrow=False, xanchor="center", yanchor="middle",
                font=dict(family=SERIF, size=23, color="black")))
ann.append(dict(x=fx(843), y=fy(645), xref="paper", yref="paper", text="<b>UMR <i>m/z</i></b>",
                showarrow=False, xanchor="center", yanchor="middle",
                font=dict(family=SERIF, size=23, color="black")))
ann.append(dict(x=fx(22), y=fy(325), xref="paper", yref="paper", text="<b>HR relative intensity</b>",
                showarrow=False, textangle=-90, xanchor="center", yanchor="middle",
                font=dict(family=SERIF, size=29, color="#333")))
ann.append(dict(x=fx(1170), y=fy(322), xref="paper", yref="paper", text="<b>UMR relative intensity</b>",
                showarrow=False, textangle=90, xanchor="center", yanchor="middle",
                font=dict(family=SERIF, size=29, color="#333")))
fig.update_layout(annotations=ann)

fig.add_shape(type="line", xref="paper", yref="paper", x0=fx(622), x1=fx(622), y0=fy(28), y1=fy(585),
              line=dict(color="black", width=3, dash="7px,3px"))

fig.write_html("out.html")
